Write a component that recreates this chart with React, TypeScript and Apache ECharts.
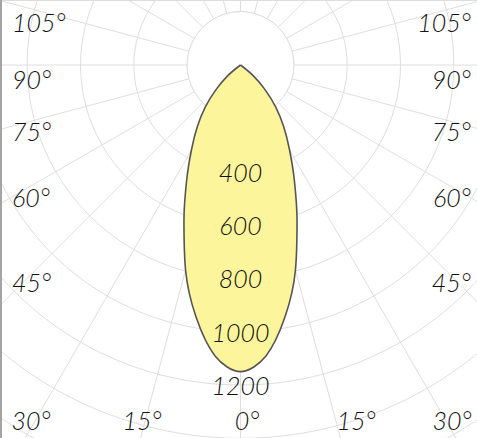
import React, { useEffect, useRef } from "react";
import * as echarts from "echarts";

// luminous intensity (cd), symmetric about 0°
const angles = [0, 5, 10, 15, 20, 25, 30, 35, 40, 45, 50, 55];
const intensity = [1150, 1095, 960, 796, 620, 478, 368, 282, 205, 128, 62, 0];

const radiusLabels = [400, 600, 800, 1000, 1200];
const sideLabels = ["105°", "90°", "75°", "60°", "45°"];
const bottomLabels = ["30°", "15°", "0°", "15°", "30°"];

// layout
const CX = 240.5;
const CY = 65;
const R_MAX = 1800;
const R_PX = 480;
const sideY = [22, 79, 131, 197, 282];
const bottomX = [31, 142, 247, 356, 452];
const BOTTOM_Y = 420;

const labelFont = {
  fontFamily: "Lato",
  fontStyle: "italic" as const,
  fontWeight: 300,
  fontSize: 25,
  fill: "#111111",
};

const App = () => {
  const chartRef = useRef<HTMLDivElement>(null);

  useEffect(() => {
    if (!chartRef.current) return;
    const chart = echarts.init(chartRef.current, null, { renderer: "svg" });

    // right half (negative angles) then left half
    const curve: number[][] = [];
    for (let i = angles.length - 1; i > 0; i--) curve.push([intensity[i], 360 - angles[i]]);
    for (let i = 0; i < angles.length; i++) curve.push([intensity[i], angles[i]]);

    const texts: any[] = [];
    sideLabels.forEach((t, i) => {
      texts.push({ type: "text", z: 20, x: 12, y: sideY[i], style: { ...labelFont, text: t, align: "left", verticalAlign: "middle" } });
      texts.push({ type: "text", z: 20, x: 471, y: sideY[i], style: { ...labelFont, text: t, align: "right", verticalAlign: "middle" } });
    });
    bottomLabels.forEach((t, i) => {
      texts.push({ type: "text", z: 20, x: bottomX[i], y: BOTTOM_Y, style: { ...labelFont, text: t, align: "center", verticalAlign: "middle" } });
    });

    const gridColor = "#dedede";
    const option: echarts.EChartsCoreOption = {
      animation: false,
      backgroundColor: "#ffffff",
      polar: [
        { center: [CX, CY], radius: [0, R_PX] },
        { center: [CX, CY], radius: [0, R_PX] },
      ],
      angleAxis: [
        {
          polarIndex: 0,
          type: "value",
          min: 0,
          max: 360,
          interval: 15,
          startAngle: -90,
          clockwise: true,
          axisLine: { show: false },
          axisTick: { show: false },
          axisLabel: { show: false },
          splitLine: { show: true, lineStyle: { color: gridColor, width: 1 } },
        },
        {
          polarIndex: 1,
          type: "value",
          min: 0,
          max: 360,
          startAngle: -90,
          clockwise: true,
          axisLine: { show: false },
          axisTick: { show: false },
          axisLabel: { show: false },
          splitLine: { show: false },
        },
      ],
      radiusAxis: [
        {
          polarIndex: 0,
          type: "value",
          min: 0,
          max: R_MAX,
          interval: 200,
          axisLine: { show: false },
          axisTick: { show: false },
          axisLabel: { show: false },
          splitLine: { show: true, lineStyle: { color: gridColor, width: 1 } },
        },
        {
          polarIndex: 1,
          type: "value",
          min: 0,
          max: R_MAX,
          interval: 200,
          z: 10,
          axisLine: { show: false },
          axisTick: { show: false },
          splitLine: { show: false },
          axisLabel: {
            show: true,
            margin: 0,
            align: "center",
            verticalAlign: "middle",
            padding: [4, 0, 0, 0],
            fontFamily: "Lato",
            fontStyle: "italic",
            fontWeight: 300,
            fontSize: 25,
            color: "#111111",
            formatter: (v: number) => (radiusLabels.includes(v) ? String(v) : ""),
          },
        },
      ],
      graphic: [
        {
          type: "circle",
          z: 1,
          shape: { cx: CX, cy: CY, r: (200 / R_MAX) * R_PX },
          style: { fill: "#ffffff", stroke: gridColor, lineWidth: 1 },
        },
        { type: "line", z: 20, shape: { x1: 0.5, y1: 0.5, x2: 477, y2: 0.5 }, style: { stroke: "#dddddd", lineWidth: 1 } },
        { type: "line", z: 20, shape: { x1: 1, y1: 0, x2: 1, y2: 438 }, style: { stroke: "#a4a4a4", lineWidth: 2 } },
        ...texts,
      ],
      series: [
        {
          type: "line",
          coordinateSystem: "polar",
          polarIndex: 0,
          z: 2,
          data: curve,
          smooth: 0.35,
          symbol: "none",
          lineStyle: { color: "#555555", width: 1.6 },
          areaStyle: { color: "#fdf59b", opacity: 1 },
        },
      ],
    };

    chart.setOption(option);
    return () => chart.dispose();
  }, []);

  return <div ref={chartRef} style={{ position: "fixed", left: 0, top: 0, width: 477, height: 438 }} />;
};

export default App;
